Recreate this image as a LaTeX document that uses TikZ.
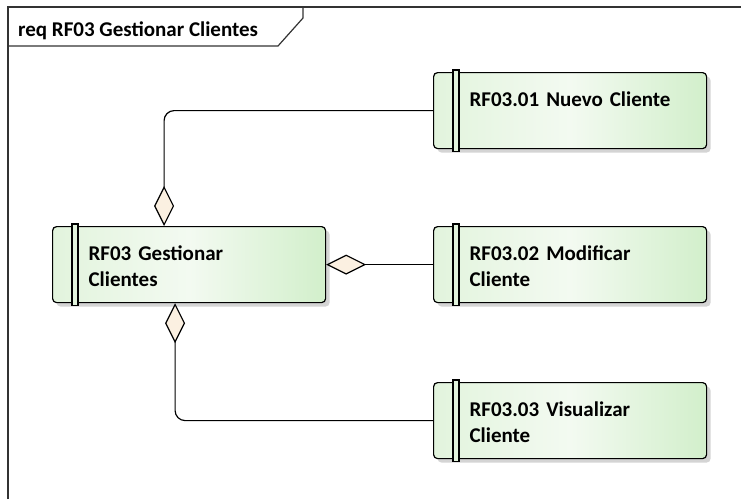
\documentclass[tikz,border=0pt]{standalone}
\usepackage{fontspec}
\setmainfont{Carlito}
\usetikzlibrary{arrows.meta,shadows}

\definecolor{reqleft}{RGB}{226,244,221}
\definecolor{reqmid}{RGB}{243,250,241}
\definecolor{reqright}{RGB}{210,239,203}
\definecolor{diafill}{RGB}{251,240,225}

\tikzset{
  reqbox/.style={draw, line width=1.2pt, rounded corners=4pt, anchor=north west,
    left color=reqleft, right color=reqright, middle color=reqmid,
    drop shadow={shadow xshift=4pt, shadow yshift=-4pt, fill=black!17, opacity=1},
    minimum width=273pt, minimum height=76pt, text width=201pt, inner xsep=36pt,
    align=left, text height=22pt, text depth=30pt,
    font=\fontsize{21}{26}\selectfont\bfseries},
  reqbar/.style={draw, line width=1.2pt, fill=reqleft},
  link/.style={line width=1.2pt, rounded corners=10pt,
    -{Diamond[length=40pt, width=20pt, fill=diafill]}},
  frameline/.style={draw=black!80, line width=1.2pt}
}

\begin{document}
\begin{tikzpicture}[x=1pt, y=-1pt]
            \useasboundingbox (0,0) rectangle (741,499);

            % Frame
            \draw[frameline] (8,499) -- (8,7) -- (741,7);
            \draw[frameline] (8,46) -- (278,46) -- (303,18) -- (303,7);
            \node[anchor=base west, inner sep=0pt, font=\fontsize{21}{24}\selectfont\bfseries] (frametitle) at (18,36) {req RF03 Gestionar Clientes};

            % Requirements
            \node[reqbox] (gest) at (52,226) {\mbox{RF03 Gestionar}\\Clientes};
            \node[reqbox] (nuevo) at (433,72) {\mbox{RF03.01 Nuevo Cliente}};
            \node[reqbox] (modif) at (433,226) {\mbox{RF03.02 Modificar}\\Cliente};
            \node[reqbox] (visual) at (433,382) {\mbox{RF03.03 Visualizar}\\Cliente};

            \foreach \n in {gest, nuevo, modif, visual}
              \draw[reqbar] ([xshift=20pt, yshift=2pt]\n.north west) rectangle ([xshift=26pt, yshift=-2pt]\n.south west);

            % Aggregations
            \draw[link] (nuevo.west) -| ([xshift=-25pt]gest.north);
            \draw[link] (modif.west) -- (gest.east);
            \draw[link] (visual.west) -| ([xshift=-14pt]gest.south);
\end{tikzpicture}
\end{document}
